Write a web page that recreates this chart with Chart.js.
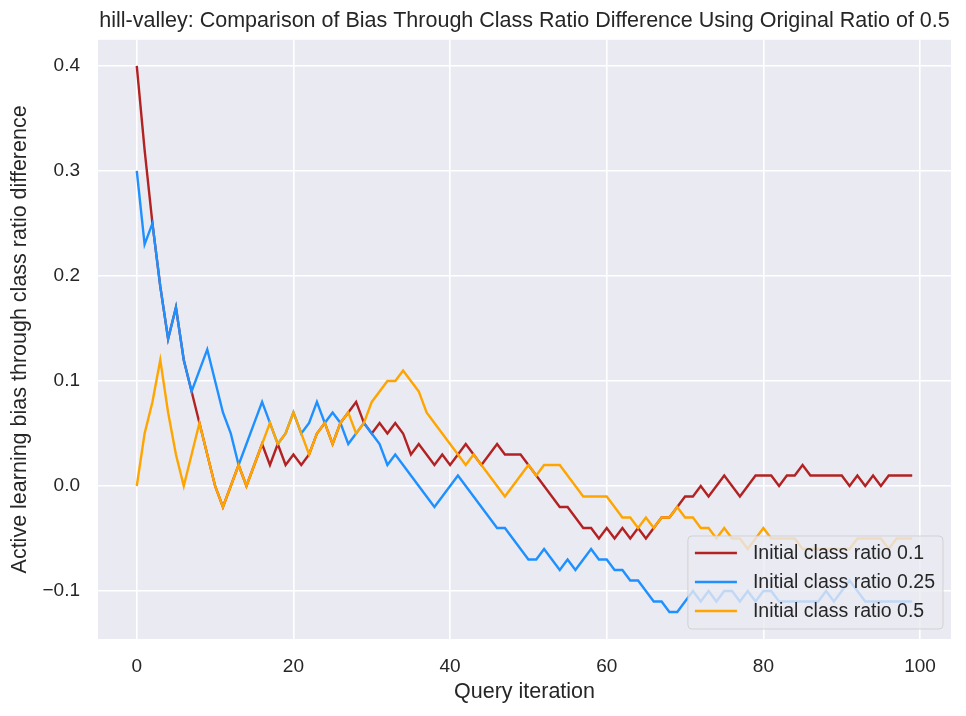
<!DOCTYPE html>
<html>
<head>
<meta charset="utf-8">
<script src="https://cdn.jsdelivr.net/npm/chart.js@4.4.1/dist/chart.umd.min.js"></script>
<style>
  html, body { margin: 0; padding: 0; background: #fff; }
</style>
</head>
<body>
<canvas id="myChart" width="966" height="716"></canvas>
<script>
// query iterations 0..99 (x positions of every point)
const iterations = [];
for (let i = 0; i < 100; i++) iterations.push(i);

const seriesLabels = ['Initial class ratio 0.1', 'Initial class ratio 0.25', 'Initial class ratio 0.5'];

const ratio01Bias = [
    0.40, 0.32, 0.25, 0.19, 0.14, 0.17, 0.12, 0.09, 0.06, 0.03,
    0.00, -0.02, 0.00, 0.02, 0.00, 0.02, 0.04, 0.02, 0.04, 0.02,
    0.03, 0.02, 0.03, 0.05, 0.06, 0.04, 0.06, 0.07, 0.08, 0.06,
    0.05, 0.06, 0.05, 0.06, 0.05, 0.03, 0.04, 0.03, 0.02, 0.03,
    0.02, 0.03, 0.04, 0.03, 0.02, 0.03, 0.04, 0.03, 0.03, 0.03,
    0.02, 0.01, 0.00, -0.01, -0.02, -0.02, -0.03, -0.04, -0.04, -0.05,
    -0.04, -0.05, -0.04, -0.05, -0.04, -0.05, -0.04, -0.03, -0.03, -0.02,
    -0.01, -0.01, 0.00, -0.01, 0.00, 0.01, 0.00, -0.01, 0.00, 0.01,
    0.01, 0.01, 0.00, 0.01, 0.01, 0.02, 0.01, 0.01, 0.01, 0.01,
    0.01, 0.00, 0.01, 0.00, 0.01, 0.00, 0.01, 0.01, 0.01, 0.01
];

const ratio025Bias = [
    0.30, 0.23, 0.25, 0.19, 0.14, 0.17, 0.12, 0.09, 0.11, 0.13,
    0.10, 0.07, 0.05, 0.02, 0.04, 0.06, 0.08, 0.06, 0.04, 0.05,
    0.07, 0.05, 0.06, 0.08, 0.06, 0.07, 0.06, 0.04, 0.05, 0.06,
    0.05, 0.04, 0.02, 0.03, 0.02, 0.01, 0.00, -0.01, -0.02, -0.01,
    0.00, 0.01, 0.00, -0.01, -0.02, -0.03, -0.04, -0.04, -0.05, -0.06,
    -0.07, -0.07, -0.06, -0.07, -0.08, -0.07, -0.08, -0.07, -0.06, -0.07,
    -0.07, -0.08, -0.08, -0.09, -0.09, -0.10, -0.11, -0.11, -0.12, -0.12,
    -0.11, -0.10, -0.11, -0.10, -0.11, -0.10, -0.10, -0.11, -0.10, -0.11,
    -0.10, -0.10, -0.11, -0.11, -0.11, -0.11, -0.11, -0.11, -0.10, -0.11,
    -0.10, -0.09, -0.10, -0.11, -0.11, -0.11, -0.11, -0.11, -0.11, -0.11
];

const ratio05Bias = [
    0.00, 0.05, 0.08, 0.12, 0.07, 0.03, 0.00, 0.03, 0.06, 0.03,
    0.00, -0.02, 0.00, 0.02, 0.00, 0.02, 0.04, 0.06, 0.04, 0.05,
    0.07, 0.05, 0.03, 0.05, 0.06, 0.04, 0.06, 0.07, 0.05, 0.06,
    0.08, 0.09, 0.10, 0.10, 0.11, 0.10, 0.09, 0.07, 0.06, 0.05,
    0.04, 0.03, 0.02, 0.03, 0.02, 0.01, 0.00, -0.01, 0.00, 0.01,
    0.02, 0.01, 0.02, 0.02, 0.02, 0.01, 0.00, -0.01, -0.01, -0.01,
    -0.01, -0.02, -0.03, -0.03, -0.04, -0.03, -0.04, -0.03, -0.03, -0.02,
    -0.03, -0.03, -0.04, -0.04, -0.05, -0.04, -0.05, -0.05, -0.06, -0.05,
    -0.04, -0.05, -0.05, -0.05, -0.05, -0.06, -0.06, -0.06, -0.06, -0.06,
    -0.06, -0.06, -0.05, -0.05, -0.05, -0.05, -0.06, -0.05, -0.05, -0.05
];

const xTicks = [0, 20, 40, 60, 80, 100];
const yTicks = [-0.1, 0.0, 0.1, 0.2, 0.3, 0.4];

const colors = ['rgb(178, 34, 34)', 'rgb(30, 144, 255)', 'rgb(255, 165, 0)'];
const fontFamily = "'Liberation Sans', Arial, sans-serif";
const textColor = '#262626';

function toPoints(values) {
    return values.map((v, i) => ({ x: iterations[i], y: v }));
}

// seaborn darkgrid style background
const backgroundPlugin = {
    id: 'background',
    beforeDraw(chart) {
        const c = chart.ctx;
        const a = chart.chartArea;
        c.save();
        c.fillStyle = '#ffffff';
        c.fillRect(0, 0, chart.width, chart.height);
        c.fillStyle = '#EAEAF2';
        c.fillRect(a.left, a.top, a.right - a.left, a.bottom - a.top);
        c.restore();
    }
};

// matplotlib-like legend in the lower right corner of the axes
const legendPlugin = {
    id: 'boxLegend',
    afterDatasetsDraw(chart) {
        const c = chart.ctx;
        const a = chart.chartArea;
        c.save();
        c.font = '19.5px ' + fontFamily;
        let maxW = 0;
        seriesLabels.forEach(t => { maxW = Math.max(maxW, c.measureText(t).width); });
        const w = 65 + maxW + 8;
        const h = 93;
        const right = a.right - 8;
        const bottom = a.bottom - 10;
        const left = right - w;
        const top = bottom - h;
        c.beginPath();
        c.roundRect(left, top, w, h, 4);
        c.fillStyle = 'rgba(234, 234, 242, 0.8)';
        c.fill();
        c.lineWidth = 1;
        c.strokeStyle = 'rgba(204, 204, 204, 0.8)';
        c.stroke();
        seriesLabels.forEach((t, k) => {
            const y = top + 17 + k * 29;
            c.beginPath();
            c.moveTo(left + 7, y);
            c.lineTo(left + 49, y);
            c.strokeStyle = colors[k];
            c.lineWidth = 2.4;
            c.stroke();
            c.fillStyle = textColor;
            c.textBaseline = 'middle';
            c.textAlign = 'left';
            c.fillText(t, left + 65, y + 1);
        });
        c.restore();
    }
};

let ctx = document.getElementById('myChart').getContext('2d');

const data = {
    datasets: [
        { label: seriesLabels[0], data: toPoints(ratio01Bias), borderColor: colors[0], order: 3 },
        { label: seriesLabels[1], data: toPoints(ratio025Bias), borderColor: colors[1], order: 2 },
        { label: seriesLabels[2], data: toPoints(ratio05Bias), borderColor: colors[2], order: 1 }
    ]
};

const config = {
    type: 'line',
    data: data,
    options: {
        responsive: false,
        animation: false,
        devicePixelRatio: 1,
        elements: {
            line: { borderWidth: 2.4, tension: 0, fill: false },
            point: { radius: 0 }
        },
        layout: { padding: { left: 0, right: 15, top: 0, bottom: 0 } },
        scales: {
            x: {
                type: 'linear',
                min: -4.95,
                max: 103.95,
                afterBuildTicks: (axis) => { axis.ticks = xTicks.map(v => ({ value: v })); },
                afterFit: (axis) => { axis.height = 77; },
                grid: { color: '#ffffff', lineWidth: 1.6, drawTicks: false },
                border: { display: false },
                ticks: { color: textColor, font: { family: fontFamily, size: 19 }, padding: 16, maxRotation: 0 },
                title: {
                    display: true, text: 'Query iteration', color: textColor,
                    font: { family: fontFamily, size: 21.5 }, padding: { top: 0, bottom: 11 }
                }
            },
            y: {
                type: 'linear',
                min: -0.1457,
                max: 0.4248,
                afterBuildTicks: (axis) => { axis.ticks = yTicks.map(v => ({ value: v })); },
                afterFit: (axis) => { axis.width = 98; },
                grid: { color: '#ffffff', lineWidth: 1.6, drawTicks: false },
                border: { display: false },
                ticks: {
                    color: textColor, font: { family: fontFamily, size: 19 }, padding: 18,
                    callback: (v) => (v < 0 ? '\u2212' + Math.abs(v).toFixed(1) : v.toFixed(1))
                },
                title: {
                    display: true, text: 'Active learning bias through class ratio difference', color: textColor,
                    font: { family: fontFamily, size: 21.5 }, padding: { top: 7, bottom: 0 }
                }
            }
        },
        plugins: {
            legend: { display: false },
            tooltip: { enabled: false },
            title: {
                display: true,
                fullSize: false,
                text: 'hill-valley: Comparison of Bias Through Class Ratio Difference Using Original Ratio of 0.5',
                color: textColor,
                font: { family: fontFamily, size: 21.5, weight: 'normal' },
                padding: { top: 8, bottom: 6 }
            }
        }
    },
    plugins: [backgroundPlugin, legendPlugin]
};

let myChart = new Chart(ctx, config);
</script>
</body>
</html>
